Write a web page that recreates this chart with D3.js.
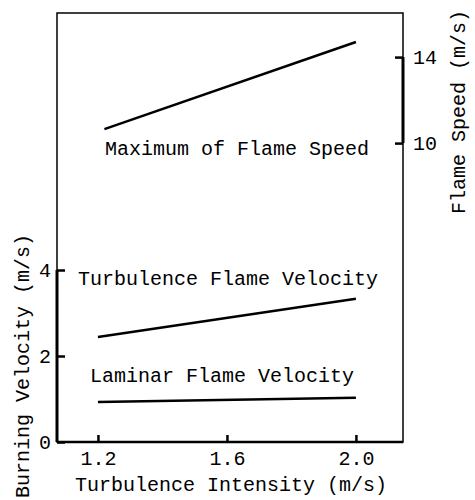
<!DOCTYPE html>
<html>
<head>
<meta charset="utf-8">
<script src="https://cdn.jsdelivr.net/npm/d3@7"></script>
<style>
  body { margin: 0; background: #fff; }
  text { font-family: "Liberation Mono", "Courier New", monospace; fill: #000; }
</style>
</head>
<body>
<div class="viz"></div>
<script>
// data
const intensity = [1.2, 2.0];
const laminar = [0.93, 1.03];
const turbulent = [2.44, 3.33];
const maxIntensity = [1.22, 2.0];
const maxFlameSpeed = [10.65, 14.7];

const xTicks = [1.2, 1.6, 2.0];
const leftTicks = [0, 2, 4];
const rightTicks = [10, 14];

const width = 475, height = 500;
const plotL = 57, plotR = 403, plotT = 13, plotB = 442;

const svg = d3.select(".viz").append("svg")
  .attr("width", width)
  .attr("height", height);

const x = d3.scaleLinear().domain([1.073, 2.146]).range([plotL, plotR]);
const yL = d3.scaleLinear().domain([0, 9.977]).range([plotB, plotT]);
const yR = d3.scaleLinear().domain([-3.9, 16.05]).range([plotB, plotT]);

// frame
svg.append("rect")
  .attr("x", plotL).attr("y", plotT)
  .attr("width", plotR - plotL).attr("height", plotB - plotT)
  .attr("fill", "none")
  .attr("stroke", "#000")
  .attr("stroke-width", 1.5);

// heavier axis segments
svg.append("line")
  .attr("x1", plotL).attr("x2", plotL)
  .attr("y1", yL(0)).attr("y2", yL(4))
  .attr("stroke", "#000").attr("stroke-width", 3);
svg.append("line")
  .attr("x1", plotR).attr("x2", plotR)
  .attr("y1", yR(10)).attr("y2", yR(14))
  .attr("stroke", "#000").attr("stroke-width", 3);
svg.append("line")
  .attr("x1", plotL).attr("x2", plotR)
  .attr("y1", plotB).attr("y2", plotB)
  .attr("stroke", "#000").attr("stroke-width", 2.5);

function styleAxis(g) {
  g.select(".domain").remove();
  g.selectAll(".tick line").attr("stroke", "#000").attr("stroke-width", 2.5);
  g.selectAll(".tick text")
    .style("font-family", "'Liberation Mono', monospace")
    .attr("font-size", 20)
    .attr("fill", "#000");
}

svg.append("g")
  .attr("transform", `translate(0,${plotB})`)
  .call(d3.axisBottom(x).tickValues(xTicks).tickFormat(d3.format(".1f")).tickSize(-7).tickPadding(9))
  .call(styleAxis);

svg.append("g")
  .attr("transform", `translate(${plotL},0)`)
  .call(d3.axisLeft(yL).tickValues(leftTicks).tickFormat(d3.format("d")).tickSize(-8).tickPadding(6))
  .call(styleAxis);

svg.append("g")
  .attr("transform", `translate(${plotR},0)`)
  .call(d3.axisRight(yR).tickValues(rightTicks).tickFormat(d3.format("d")).tickSize(-8).tickPadding(10))
  .call(styleAxis);

// data lines
const lineL = d3.line().x(d => x(d[0])).y(d => yL(d[1]));
const lineR = d3.line().x(d => x(d[0])).y(d => yR(d[1]));

svg.append("path")
  .attr("d", lineL(d3.zip(intensity, laminar)))
  .attr("fill", "none").attr("stroke", "#000").attr("stroke-width", 2.5);
svg.append("path")
  .attr("d", lineL(d3.zip(intensity, turbulent)))
  .attr("fill", "none").attr("stroke", "#000").attr("stroke-width", 2.5);
svg.append("path")
  .attr("d", lineR(d3.zip(maxIntensity, maxFlameSpeed)))
  .attr("fill", "none").attr("stroke", "#000").attr("stroke-width", 2.5);

// curve labels
svg.append("text").attr("x", 105).attr("y", 155).attr("font-size", 20)
  .text("Maximum of Flame Speed");
svg.append("text").attr("x", 78).attr("y", 285).attr("font-size", 20)
  .text("Turbulence Flame Velocity");
svg.append("text").attr("x", 90).attr("y", 382).attr("font-size", 20)
  .text("Laminar Flame Velocity");

// axis titles
svg.append("text")
  .attr("x", (plotL + plotR) / 2 + 1).attr("y", 491)
  .attr("text-anchor", "middle").attr("font-size", 20)
  .text("Turbulence Intensity (m/s)");

svg.append("text")
  .attr("transform", "translate(29,366) rotate(-90)")
  .attr("text-anchor", "middle").attr("font-size", 20)
  .text("Burning Velocity (m/s)");

svg.append("text")
  .attr("transform", "translate(465,112) rotate(-90)")
  .attr("text-anchor", "middle").attr("font-size", 20)
  .text("Flame Speed (m/s)");
</script>
</body>
</html>
